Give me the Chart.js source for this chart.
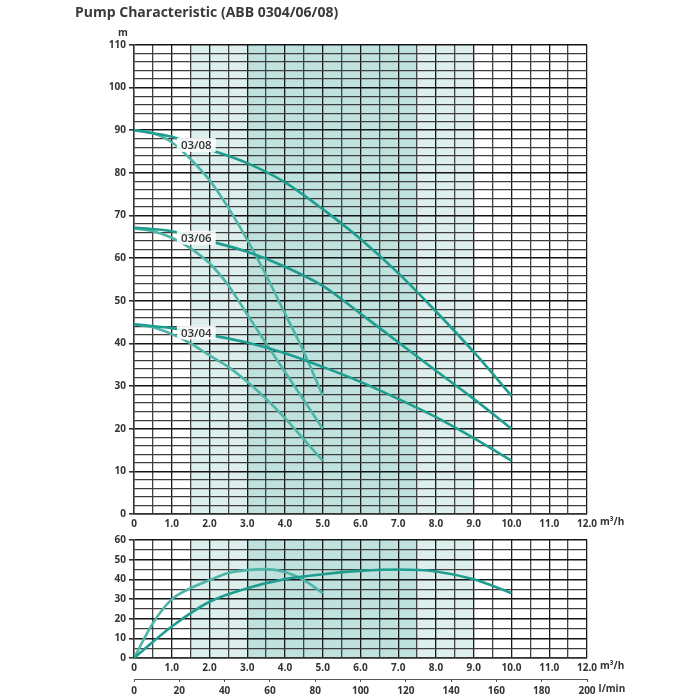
<!DOCTYPE html>
<html>
<head>
<meta charset="utf-8">
<script src="https://cdn.jsdelivr.net/npm/chart.js@4"></script>
<style>
  body { margin:0; background:#fff; width:700px; height:700px; position:relative; overflow:hidden; }
  canvas { position:absolute; left:0; }
  #qh { top:0; }
  #eff { top:530px; }
</style>
</head>
<body>
<canvas id="qh" width="700" height="535"></canvas>
<canvas id="eff" width="700" height="170"></canvas>
<script>
/* Pump characteristic ABB 0304/06/08 */

// flow (m3/h)
const flowShort = [0, 0.5, 1, 1.5, 2, 2.5, 3, 3.5, 4, 4.5, 5];
const flowLong  = [0, 1, 2, 3, 4, 5, 6, 7, 8, 9, 10];

// head (m), main curves
const head0308 = [90, 88.5, 85.5, 82.3, 77.8, 71.5, 64.5, 56.5, 47.5, 38, 27.7];
const head0306 = [67.2, 66.3, 64, 61.5, 58, 53.5, 47, 40.3, 33.6, 27, 20];
const head0304 = [44.5, 43.6, 42, 40.2, 37.7, 34.5, 31, 27, 22.7, 17.8, 12.5];

// head (m), steep curves
const steep0308 = [90, 89.3, 87.2, 83.2, 78.3, 71.8, 64.3, 56, 47, 38, 27.7];
const steep0306 = [67, 66.3, 64.8, 62.3, 58.8, 53.6, 46.8, 40, 33.3, 26.7, 20];
const steep0304 = [44.5, 43.8, 42.2, 40, 37.2, 34.5, 31, 27, 22.5, 17.5, 12.5];

// efficiency (%)
const effShort = [0, 17.7, 29.8, 35.5, 39.6, 43.2, 44.7, 45.2, 43.7, 39.6, 33];
const effLong  = [0, 16, 28.6, 35.5, 40.1, 42.6, 44.3, 45, 44, 40, 33];

const curveNames = ['03/08', '03/06', '03/04'];
const bandEdges = [1.5, 3.0, 7.5, 9.0];   // duty range shading

const FONT = "'Open Sans', sans-serif";
const TXT = '#333';
const DARK = 'rgba(31,158,143,1)';
const LIGHT = 'rgba(78,182,168,1)';
const BAND_LIGHT = '#ddefed';
const BAND_DARK = '#bfe2de';

const pts = (xs, ys) => xs.map((x, i) => ({ x, y: ys[i] }));

function interp(xs, ys, x) {
  for (let i = 1; i < xs.length; i++) {
    if (x <= xs[i]) {
      const t = (x - xs[i-1]) / (xs[i] - xs[i-1]);
      return ys[i-1] + t * (ys[i] - ys[i-1]);
    }
  }
  return ys[ys.length - 1];
}

function line(xs, ys, color, width) {
  return {
    data: pts(xs, ys),
    borderColor: color,
    borderWidth: width,
    pointRadius: 0,
    fill: false,
    cubicInterpolationMode: 'monotone'
  };
}

const tickFont = { family: FONT, size: 10, weight: 'bold' };

function xAxis() {
  return {
    type: 'linear', position: 'bottom', min: 0, max: 12, weight: 0,
    ticks: {
      stepSize: 0.5, autoSkip: false, maxRotation: 0, padding: 4,
      color: TXT, font: tickFont,
      callback: v => v === 0 ? '0' : (Number.isInteger(v) ? v.toFixed(1) : '')
    },
    grid: {
      drawTicks: false,
      color: c => c.tick && Number.isInteger(c.tick.value) ? '#1a1a1a' : '#444',
      lineWidth: 1.3
    },
    border: { color: '#333', width: 1.4 },
    afterFit: s => { s.height = 21; }
  };
}

function yAxis(max, step) {
  const major = c => c.tick && c.tick.value % 10 === 0;
  return {
    type: 'linear', min: 0, max,
    ticks: {
      stepSize: step, autoSkip: false, padding: 3,
      color: TXT, font: tickFont,
      callback: v => v % 10 === 0 ? v : ''
    },
    grid: {
      color: c => major(c) ? '#141414' : '#3d3d3d',
      lineWidth: c => major(c) ? 1.6 : 1.3,
      tickLength: 5,
      tickColor: c => major(c) ? '#333' : 'rgba(0,0,0,0)'
    },
    border: { color: '#333', width: 1.4 },
    afterFit: s => { s.width = 40; }
  };
}

const bandPlugin = {
  id: 'bands',
  beforeDraw(chart) {
    const { ctx, chartArea: a, scales: { x } } = chart;
    ctx.save();
    for (let i = 0; i < bandEdges.length - 1; i++) {
      const x0 = x.getPixelForValue(bandEdges[i]);
      const x1 = x.getPixelForValue(bandEdges[i + 1]);
      ctx.fillStyle = i === 1 ? BAND_DARK : BAND_LIGHT;
      ctx.fillRect(x0, a.top, x1 - x0, a.bottom - a.top);
    }
    ctx.restore();
  }
};

const unitPlugin = {
  id: 'units',
  afterDraw(chart) {
    const { ctx, scales } = chart;
    ctx.save();
    ctx.font = `bold 10px ${FONT}`;
    ctx.fillStyle = TXT;
    ctx.textBaseline = 'top';
    ctx.textAlign = 'left';
    const x = scales.x;
    const px = x.getPixelForValue(12) + ctx.measureText('12.0').width / 2 + 3;
    ctx.fillText('m³/h', px, x.top + 3);
    if (scales.x2) {
      const s = scales.x2;
      const p2 = s.getPixelForValue(200) + ctx.measureText('200').width / 2 + 3;
      ctx.fillText('l/min', p2, s.top + 5);
    }
    ctx.restore();
  }
};

const labelPlugin = {
  id: 'curveLabels',
  afterDraw(chart) {
    const { ctx, scales: { x, y } } = chart;
    ctx.save();
    ctx.font = `bold 14px ${FONT}`;
    ctx.fillStyle = '#3a3a3a';
    ctx.textBaseline = 'alphabetic';
    ctx.fillText('Pump Characteristic (ABB 0304/06/08)', 75, 17);
    ctx.font = `bold 10px ${FONT}`;
    ctx.fillStyle = TXT;
    ctx.textAlign = 'center';
    ctx.textBaseline = 'middle';
    ctx.fillText('m', 123, 33);

    ctx.font = `600 11.5px ${FONT}`;
    const heads = [head0308, head0306, head0304];
    const at = 1.65;
    curveNames.forEach((name, i) => {
      const px = x.getPixelForValue(at);
      const py = y.getPixelForValue(interp(flowLong, heads[i], at));
      const w = ctx.measureText(name).width + 8;
      ctx.fillStyle = 'rgba(255,255,255,0.88)';
      ctx.fillRect(px - w / 2, py - 7, w, 14);
      ctx.fillStyle = TXT;
      ctx.fillText(name, px, py + 1);
    });
    ctx.restore();
  }
};

const common = {
  responsive: false,
  animation: false,
  plugins: { legend: { display: false }, tooltip: { enabled: false } }
};

new Chart(document.getElementById('qh'), {
  type: 'line',
  data: {
    datasets: [
      line(flowLong, head0308, DARK, 2.6),
      line(flowLong, head0306, DARK, 2.6),
      line(flowLong, head0304, DARK, 2.6),
      line(flowShort, steep0308, LIGHT, 2.6),
      line(flowShort, steep0306, LIGHT, 2.6),
      line(flowShort, steep0304, LIGHT, 2.6)
    ]
  },
  options: {
    ...common,
    layout: { padding: { left: 94, right: 113, top: 45, bottom: 0 } },
    scales: { x: xAxis(), y: yAxis(110, 2) }
  },
  plugins: [bandPlugin, unitPlugin, labelPlugin]
});

new Chart(document.getElementById('eff'), {
  type: 'line',
  data: {
    datasets: [
      line(flowLong, effLong, DARK, 2.6),
      line(flowShort, effShort, LIGHT, 2.6)
    ]
  },
  options: {
    ...common,
    layout: { padding: { left: 94, right: 113, top: 10, bottom: 0 } },
    scales: {
      x: xAxis(),
      x2: {
        type: 'linear', position: 'bottom', axis: 'x', weight: 1, min: 0, max: 200,
        ticks: { stepSize: 20, autoSkip: false, maxRotation: 0, padding: 3, color: TXT, font: tickFont },
        grid: { drawOnChartArea: false, tickLength: 3, color: '#555' },
        border: { color: '#555', width: 1 },
        afterFit: s => { s.height = 21; }
      },
      y: yAxis(60, 5)
    }
  },
  plugins: [bandPlugin, unitPlugin]
});
</script>
</body>
</html>
